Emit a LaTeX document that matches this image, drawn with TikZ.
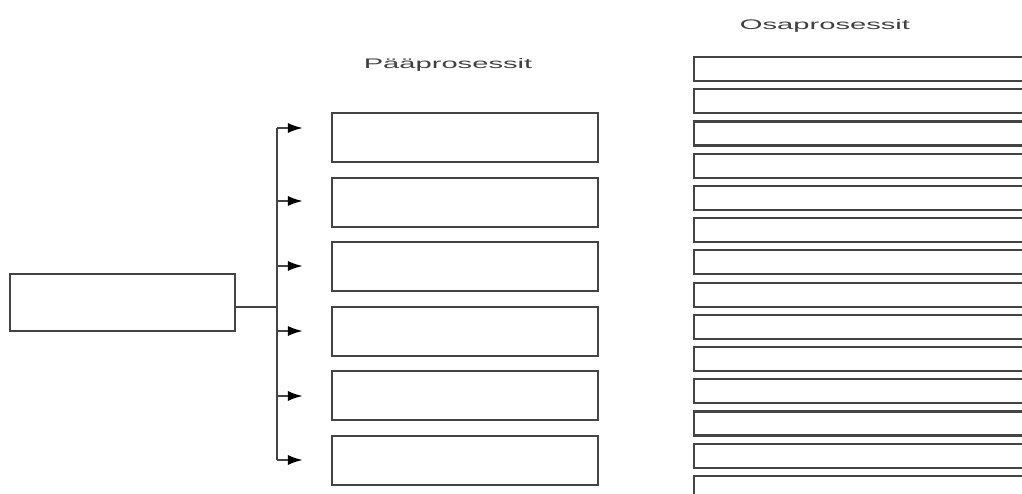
\documentclass[tikz,border=0pt]{standalone}
\usepackage{fontspec}
\setmainfont{Liberation Sans}
\usetikzlibrary{arrows.meta}
\definecolor{boxgray}{RGB}{68,68,68}
\definecolor{textgray}{RGB}{64,64,64}

\begin{document}
\begin{tikzpicture}[x=0.02cm,y=-0.02cm,
    box/.style={draw=boxgray,line width=1.2pt,inner sep=0pt},
    link/.style={draw=boxgray,line width=1.2pt},
    otsikko/.style={text=textgray,font=\fontsize{7.9}{9}\selectfont,xscale=2.1,inner sep=0pt,anchor=base}]
  \useasboundingbox (0,0) rectangle (1022,494);
  \clip (0,0) rectangle (1022,494);
  \node[box,minimum width=4.5cm,minimum height=1.14cm] (main) at (122.5,302.5) {};
  \foreach \i in {1,...,6}
    \node[box,minimum width=5.32cm,minimum height=0.98cm] (p\i) at (465,{137.5+(\i-1)*64.6}) {};
  \foreach \i in {1,...,14}
    \node[box,minimum width=6.92cm,minimum height=0.48cm] (o\i) at (867,{69+(\i-1)*32.23}) {};
  \node[otsikko] (ptitle) at (448,68) {Pääprosessit};
  \node[otsikko] (otitle) at (825,29) {Osaprosessit};
  % haarat
  \foreach \y [count=\i] in {128,201,266,331,396,460}
    \coordinate (a\i) at (277,\y);
  \coordinate (j) at (277,307);
  \draw[link] (a1) -- (a6);
  \draw[link] (main.east |- j) -- (j);
  \foreach \i in {1,...,6}
    \draw[link,-{Latex[black,length=0.3cm,width=0.2cm]},shorten >=0.56cm] (a\i) -- (a\i -| p\i.west);
\end{tikzpicture}
\end{document}
